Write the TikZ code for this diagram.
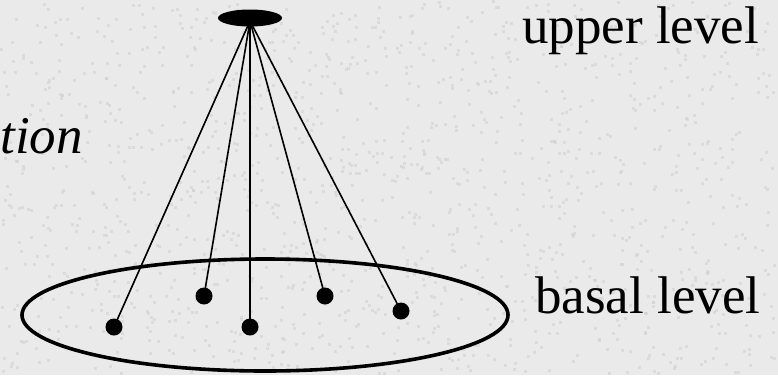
\documentclass[tikz,border=0pt]{standalone}
\usepackage{fontspec}
\setmainfont{Liberation Serif}
\usepackage{xcolor}
\usetikzlibrary{positioning,shapes.geometric}
\definecolor{paper}{HTML}{EAEAEA}
\definecolor{speck}{HTML}{D2D2D2}
\definecolor{ink}{HTML}{000000}
\tikzset{
  levellabel/.style={font=\fontsize{53}{60}\selectfont, text=ink, inner sep=0pt},
  member/.style={circle, fill=ink, minimum size=17pt, inner sep=0pt},
  link/.style={draw=ink, line width=1.6pt},
}

\begin{document}
\begin{tikzpicture}[x=1pt,y=-1pt]
  \useasboundingbox (0,0) rectangle (778,375);
  \fill[paper] (0,0) rectangle (778,375);
  % paper texture
  \pgfmathsetseed{7}
  \foreach \k in {1,...,1400} {
    \pgfmathsetmacro{\px}{rnd*775}
    \pgfmathsetmacro{\py}{rnd*372}
    \fill[speck, opacity=0.6] (\px,\py) rectangle ++(3,3);
  }

  % basal level set
  \draw[ink, line width=3.6pt] (265,315) ellipse (243 and 56);

  \node[member] (m1) at (114,327) {};
  \node[member] (m2) at (204,296) {};
  \node[member] (m3) at (250,327) {};
  \node[member] (m4) at (325,296) {};
  \node[member] (m5) at (401,311) {};

  \coordinate (apex) at (250,21);
  \foreach \m in {m1,m2,m3,m4,m5} {
    \draw[link] (apex) -- (\m.center);
  }
  \node[ellipse, fill=ink, minimum width=64pt, minimum height=17pt, inner sep=0pt] (top) at (250,18) {};

  \node[levellabel, anchor=base west] (upper) at (522,43) {upper level};
  \node[levellabel, anchor=base west] (basal) at (535,313) {basal level};
  \node[levellabel, anchor=base east, font=\fontsize{53}{60}\selectfont\itshape] (rel) at (83,153) {tion};
\end{tikzpicture}
\end{document}
